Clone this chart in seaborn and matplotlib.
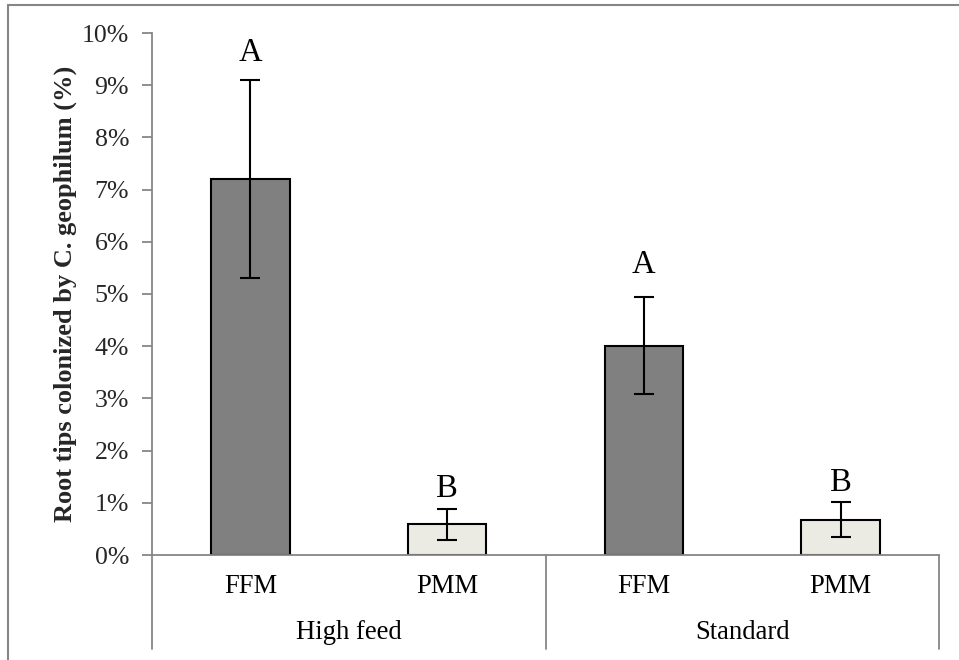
import matplotlib
matplotlib.use("Agg")
import matplotlib.pyplot as plt
import seaborn as sns
import pandas as pd
import numpy as np
from matplotlib.lines import Line2D
from matplotlib.ticker import FuncFormatter

groups = ["High feed", "High feed", "Standard", "Standard"]
treatments = ["FFM", "PMM", "FFM", "PMM"]
values = [7.2, 0.59, 4.01, 0.68]
err_low = [1.9, 0.31, 0.93, 0.34]
err_high = [1.9, 0.29, 0.93, 0.33]
letters = ["A", "B", "A", "B"]
letter_y = [9.46, 1.11, 5.40, 1.23]
yticks = [0, 1, 2, 3, 4, 5, 6, 7, 8, 9, 10]
colors = {"FFM": "#808080", "PMM": "#EEECE1"}

sns.set_theme(style="white")
plt.rcParams['font.family'] = ['Liberation Serif', 'DejaVu Serif']

df = pd.DataFrame({"key": [f"{g} {t}" for g, t in zip(groups, treatments)],
                   "group": groups, "treatment": treatments, "value": values})

fig = plt.figure(figsize=(9.59, 6.60), dpi=100)
ax = fig.add_axes([152/959, (660-555)/660, (939-152)/959, (555-33)/660])

sns.barplot(data=df, x="key", y="value", hue="treatment", palette=colors,
            order=df["key"].tolist(), width=0.4, dodge=False,
            edgecolor="black", linewidth=1.5, legend=False, ax=ax)

xs = np.arange(len(values))
ax.errorbar(xs, values, yerr=[err_low, err_high], fmt="none", ecolor="black",
            elinewidth=1.5, capsize=7, capthick=1.5, zorder=5)

for x, ly, l in zip(xs, letter_y, letters):
    ax.text(x, ly, l, ha="center", va="baseline", fontsize=23.5,
            color="black")

ax.set_ylim(0, 10)
ax.set_xlim(-0.5, len(values) - 0.5)
ax.set_yticks(yticks)
ax.yaxis.set_major_formatter(FuncFormatter(lambda v, p: f"{int(v)}%"))
ax.tick_params(axis="y", direction="out", length=7, width=1.3, color="#868686",
               labelsize=18.6, pad=9.5, left=True)
ax.tick_params(axis="x", length=0, labelbottom=False)
ax.set_xlabel("")
ax.set_ylabel("Root tips colonized by C. geophilum (%)", fontsize=19,
              fontweight="bold", va="center")
ax.yaxis.set_label_coords(-0.1105, 0.5)
for s in ["top", "right"]:
    ax.spines[s].set_visible(False)
for s in ["left", "bottom"]:
    ax.spines[s].set_color("#868686")
    ax.spines[s].set_linewidth(1.3)

trans = ax.get_xaxis_transform()
for x, t in zip(xs, treatments):
    ax.text(x, -0.061, t, transform=trans, ha="center", va="center",
            fontsize=19.2, color="black")
ug = list(dict.fromkeys(groups))
for i, g in enumerate(ug):
    idx = [k for k, gg in enumerate(groups) if gg == g]
    ax.text(np.mean(idx), -0.149, g, transform=trans, ha="center",
            va="center", fontsize=19.2, color="black")
bounds = [-0.5, 1.5, 3.5]
for b in bounds:
    ax.plot([b, b], [0, -0.18], transform=trans, color="#868686", lw=1.3,
            clip_on=False)

fig.add_artist(Line2D([8/959, 8/959], [0, 1 - 5/660], color="#868686", lw=1.5))
fig.add_artist(Line2D([8/959, 1], [1 - 5/660, 1 - 5/660], color="#868686", lw=1.5))

fig.savefig("out.png", dpi=100, facecolor="white")
